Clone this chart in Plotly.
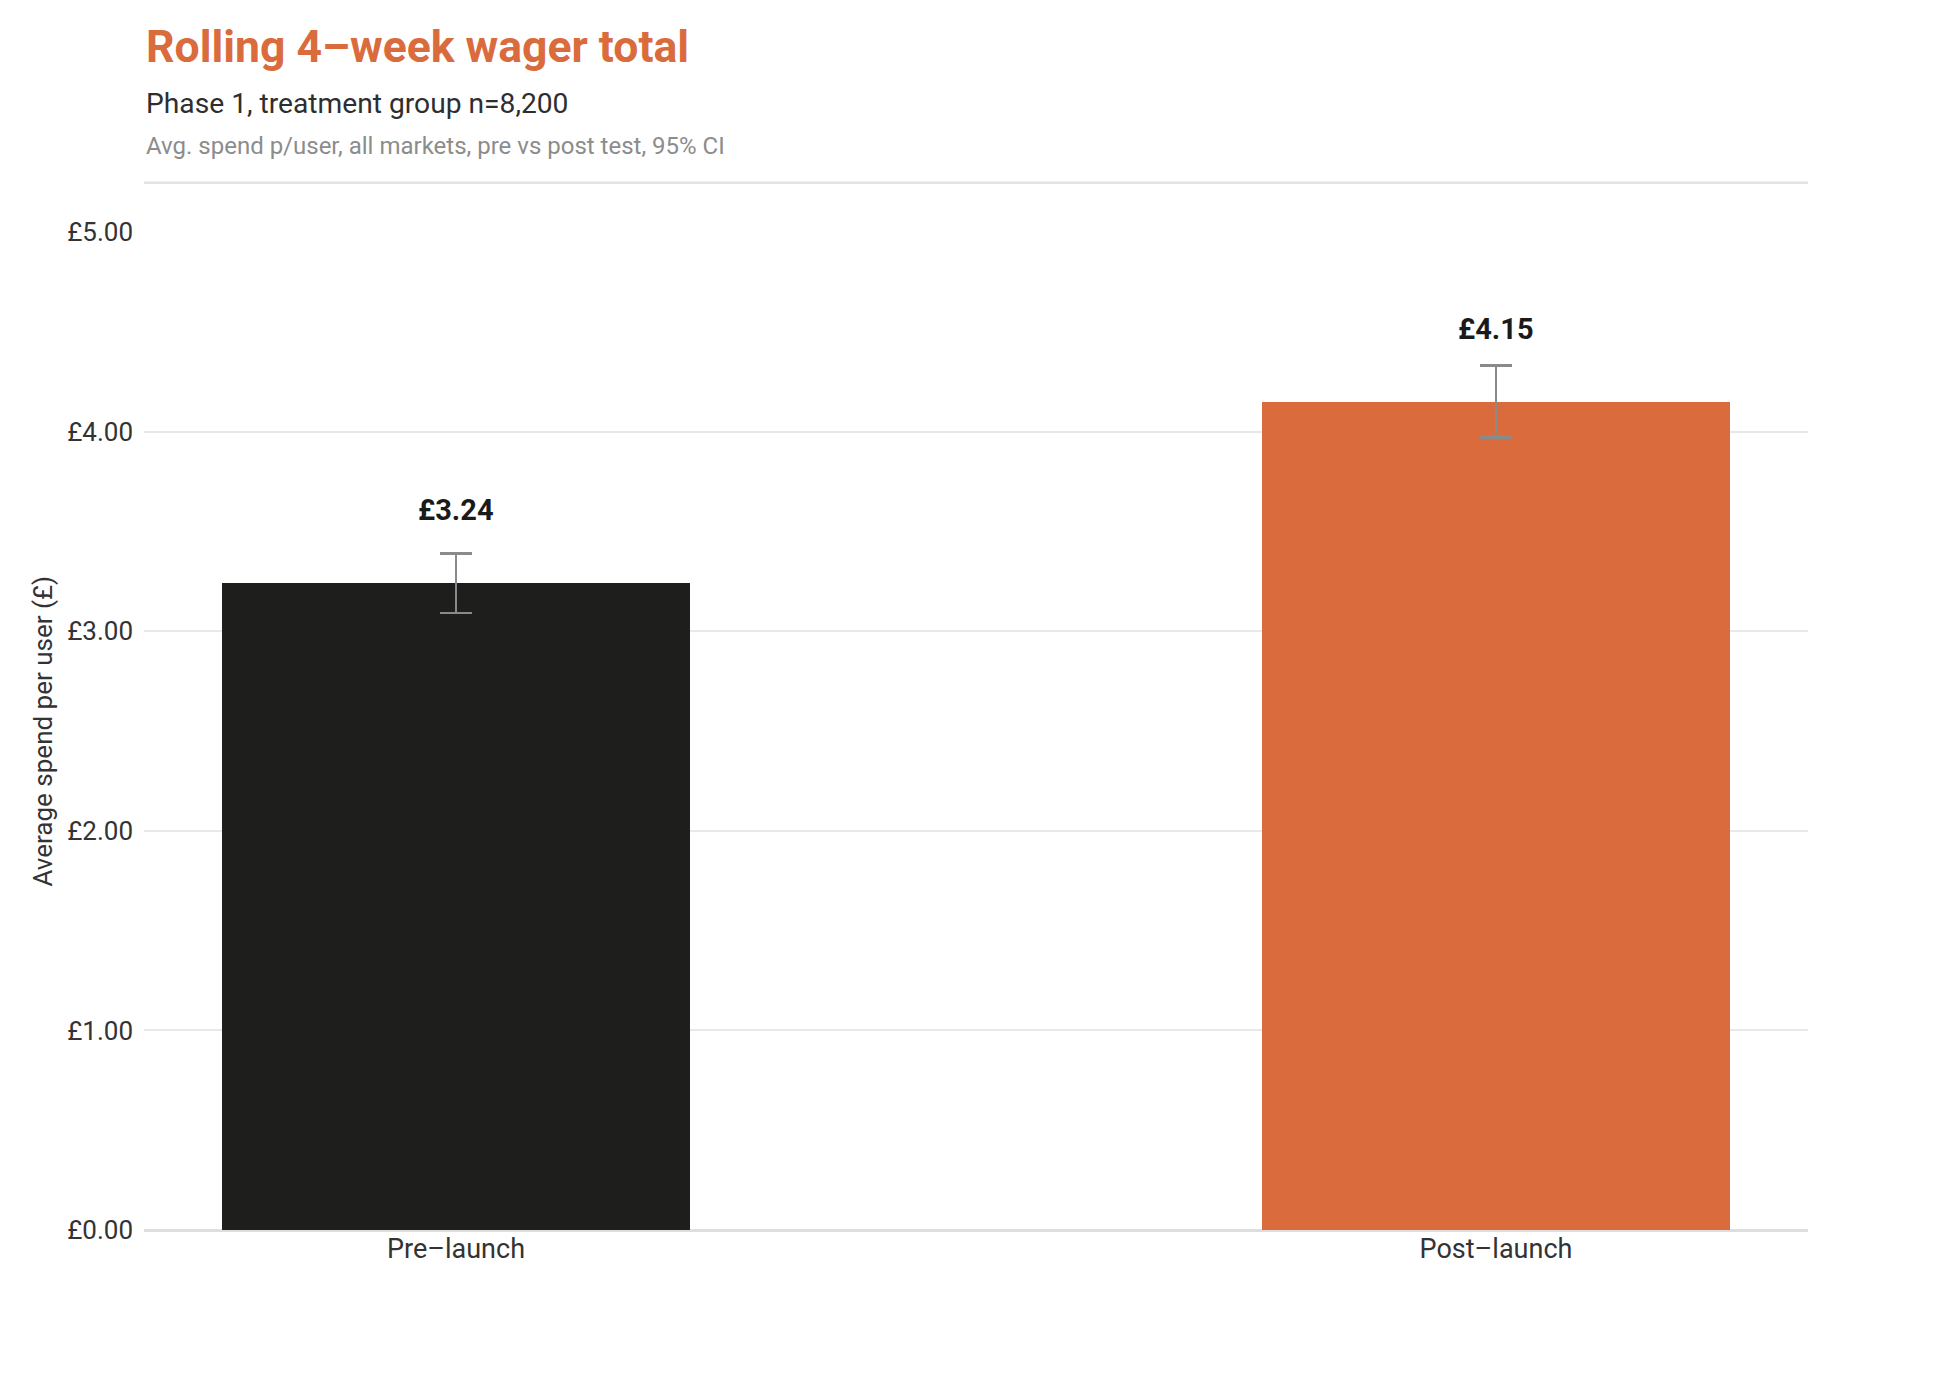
import plotly.graph_objects as go

# ---- data ----
categories = ["Pre–launch", "Post–launch"]
avg_spend = [3.24, 4.15]
ci_upper = [0.15, 0.18]
ci_lower = [0.15, 0.18]
bar_colors = ["#1e1e1c", "#da6b3d"]
value_labels = ["£3.24", "£4.15"]
y_ticks = [0, 1, 2, 3, 4, 5]
y_tick_labels = ["£0.00", "£1.00", "£2.00", "£3.00", "£4.00", "£5.00"]

FONT = "Roboto"
W, H = 1958, 1390
OFF = 8  # page body margin offset
L, R, T, B = 144 - OFF, 150 + OFF, 232 - OFF, 160 + OFF
ph = H - T - B


def py(pix):
    # pix measured in reference screen coordinates
    return (1230 - pix) / ph


fig = go.Figure()
fig.add_trace(go.Bar(
    x=categories,
    y=avg_spend,
    marker=dict(color=bar_colors, line=dict(width=0)),
    width=0.45,
    error_y=dict(type="data", array=ci_upper, arrayminus=ci_lower,
                 color="#8a8a8a", thickness=2.5, width=16),
    hoverinfo="skip",
))

annotations = []
for c, v, t in zip(categories, avg_spend, value_labels):
    annotations.append(dict(x=c, y=v, xref="x", yref="y", text="<b>%s</b>" % t,
                            showarrow=False, yshift=73, yanchor="middle",
                            font=dict(family=FONT, size=29, color="#1a1a1a")))

annotations += [
    dict(x=0, y=py(46.7), xref="paper", yref="paper", xanchor="left", yanchor="middle",
         text="<b>Rolling 4–week wager total</b>", showarrow=False,
         font=dict(family=FONT, size=44.5, color="#d96b3d")),
    dict(x=0, y=py(103.3), xref="paper", yref="paper", xanchor="left", yanchor="middle",
         text="Phase 1, treatment group n=8,200", showarrow=False,
         font=dict(family=FONT, size=28.2, color="#2e2e2e")),
    dict(x=0, y=py(145.8), xref="paper", yref="paper", xanchor="left", yanchor="middle",
         text="Avg. spend p/user, all markets, pre vs post test, 95% CI", showarrow=False,
         font=dict(family=FONT, size=24, color="#8c8c8c")),
    dict(x=(42.5 - 144) / (W - L - R), y=0.5, xref="paper", yref="paper",
         xanchor="center", yanchor="middle", textangle=-90,
         text="Average spend per user (£)", showarrow=False,
         font=dict(family=FONT, size=26, color="#333333")),
]

fig.update_layout(
    width=W, height=H,
    margin=dict(l=L, r=R, t=T, b=B, pad=0),
    paper_bgcolor="white", plot_bgcolor="white",
    showlegend=False,
    bargap=0,
    annotations=annotations,
    shapes=[dict(type="line", xref="paper", yref="paper", x0=0, x1=1,
                 y0=py(182.7), y1=py(182.7), line=dict(color="#e3e3e3", width=2.5))],
    xaxis=dict(range=[-0.3, 1.3], showgrid=False, zeroline=False, showline=False,
               ticks="", tickfont=dict(family=FONT, size=27, color="#333333"),
               fixedrange=True),
    yaxis=dict(range=[0, 5], tickvals=y_ticks, ticktext=y_tick_labels,
               showgrid=True, gridcolor="#e8e8e8", gridwidth=1.5,
               zeroline=True, zerolinecolor="#dedede", zerolinewidth=2.5,
               showline=False, ticks="", ticklabelstandoff=10,
               tickfont=dict(family=FONT, size=26, color="#333333"),
               fixedrange=True),
)

fig.write_html("out.html")
